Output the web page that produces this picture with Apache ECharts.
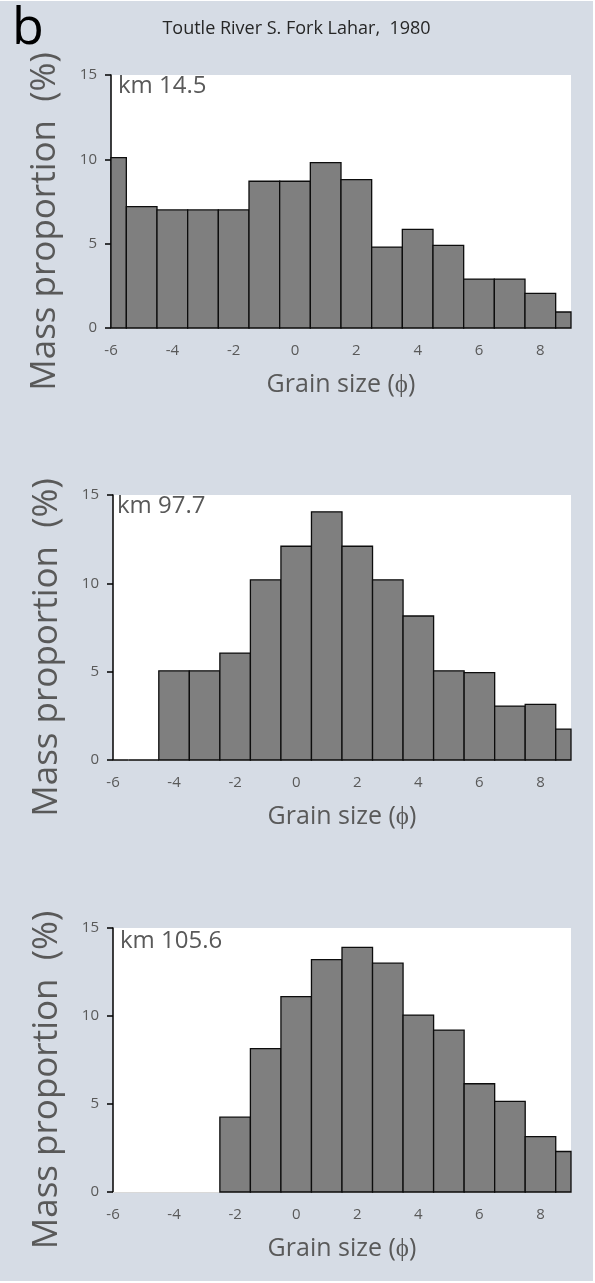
<!DOCTYPE html>
<html>
<head>
<meta charset="utf-8">
<script src="https://cdn.jsdelivr.net/npm/echarts@6/dist/echarts.min.js"></script>
<style>
  html, body { margin: 0; padding: 0; background: #ffffff; }
  #chart { position: absolute; left: 0; top: 1px; width: 593px; height: 1280px; background: #d6dce5; }
</style>
</head>
<body>
<div id="chart"></div>
<script>
// ---- data ----
const grainSize = [-6, -5, -4, -3, -2, -1, 0, 1, 2, 3, 4, 5, 6, 7, 8, 9];
const xTicks = [-6, -4, -2, 0, 2, 4, 6, 8];
const yTicks = [0, 5, 10, 15];
const panelLabels = ['km 14.5', 'km 97.7', 'km 105.6'];
const km145 = [10.1, 7.2, 7.0, 7.0, 7.0, 8.7, 8.7, 9.8, 8.8, 4.8, 5.85, 4.9, 2.9, 2.9, 2.05, 0.95];
const km977 = [0, 0, 5.05, 5.05, 6.05, 10.2, 12.1, 14.05, 12.1, 10.2, 8.15, 5.05, 4.95, 3.05, 3.15, 1.75];
const km1056 = [null, null, null, null, 4.25, 8.15, 11.1, 13.2, 13.9, 13.0, 10.05, 9.2, 6.15, 5.15, 3.15, 2.3];
const mainTitle = 'Toutle River S. Fork Lahar,  1980';
const panelLetter = 'b';
const xName = 'Grain size (\u03D5)';
const yName = 'Mass proportion  (%)';

// ---- layout ----
const layout = [
  { top: 74, height: 253, left: 111, right: 22, labelTop: 73, labelLeft: 118 },
  { top: 494, height: 265, left: 113, right: 22, labelTop: 493, labelLeft: 117 },
  { top: 927, height: 264, left: 113, right: 22, labelTop: 928, labelLeft: 120 }
];
const seriesData = [km145, km977, km1056];
const FONT = 'Open Sans';
const GREY = '#595959';
const binHalf = (grainSize[1] - grainSize[0]) / 2;

const chart = echarts.init(document.getElementById('chart'), null, { renderer: 'canvas' });

const grids = [], xAxes = [], yAxes = [], series = [];
const titles = [
  { text: panelLetter, left: 12, top: 2, padding: 0,
    textStyle: { fontFamily: FONT, fontSize: 52, fontWeight: 'normal', color: '#000' } },
  { text: mainTitle, left: 'center', top: 19, padding: 0,
    textStyle: { fontFamily: FONT, fontSize: 18, fontWeight: 'normal', color: '#262626' } }
];

function renderBin(params, api) {
  const x = api.value(0), y = api.value(1);
  if (y === null || isNaN(y)) return null;
  const p0 = api.coord([x - binHalf, 0]);
  const p1 = api.coord([x + binHalf, y]);
  const cs = params.coordSys;
  const rect = echarts.graphic.clipRectByRect(
    { x: p0[0], y: p1[1], width: p1[0] - p0[0], height: p0[1] - p1[1] },
    { x: cs.x, y: cs.y, width: cs.width, height: cs.height }
  );
  if (!rect) return null;
  return { type: 'rect', shape: rect,
    style: { fill: '#7f7f7f', stroke: '#0d0d0d', lineWidth: 1.3 } };
}

layout.forEach((L, i) => {
  grids.push({ left: L.left, right: L.right, top: L.top, height: L.height,
    show: true, backgroundColor: '#ffffff', borderWidth: 0, containLabel: false });
  xAxes.push({
    type: 'value', gridIndex: i,
    min: xTicks[0], max: grainSize[grainSize.length - 1], interval: xTicks[1] - xTicks[0],
    name: xName, nameLocation: 'middle', nameGap: 44,
    nameTextStyle: { fontFamily: FONT, fontSize: 25, color: GREY },
    axisLine: { show: true, onZero: false, lineStyle: { color: '#d9d9d9', width: 1 } },
    axisTick: { show: false },
    splitLine: { show: false },
    axisLabel: { fontFamily: FONT, fontSize: 15, color: GREY, margin: 15, showMaxLabel: false }
  });
  yAxes.push({
    type: 'value', gridIndex: i,
    min: yTicks[0], max: yTicks[yTicks.length - 1], interval: yTicks[1] - yTicks[0],
    name: yName, nameLocation: 'middle', nameGap: 48,
    nameTextStyle: { fontFamily: FONT, fontSize: 35, color: GREY, padding: [0, 40, 0, 0] },
    axisLine: { show: true, onZero: false, lineStyle: { color: '#000', width: 1.5 } },
    axisTick: { show: true, inside: false, length: 6, lineStyle: { color: '#000', width: 1.5 } },
    splitLine: { show: false },
    axisLabel: { fontFamily: FONT, fontSize: 15, color: GREY, margin: 14 }
  });
  series.push({
    type: 'custom', xAxisIndex: i, yAxisIndex: i,
    renderItem: renderBin,
    encode: { x: 0, y: 1 },
    data: grainSize.map((g, k) => [g, seriesData[i][k]]),
    z: 1,
    animation: false
  });
  titles.push({ text: panelLabels[i], left: L.labelLeft, top: L.labelTop, padding: 0,
    textStyle: { fontFamily: FONT, fontSize: 24, fontWeight: 'normal', color: GREY } });
});

chart.setOption({
  animation: false,
  title: titles,
  grid: grids,
  xAxis: xAxes,
  yAxis: yAxes,
  series: series
});
</script>
</body>
</html>
